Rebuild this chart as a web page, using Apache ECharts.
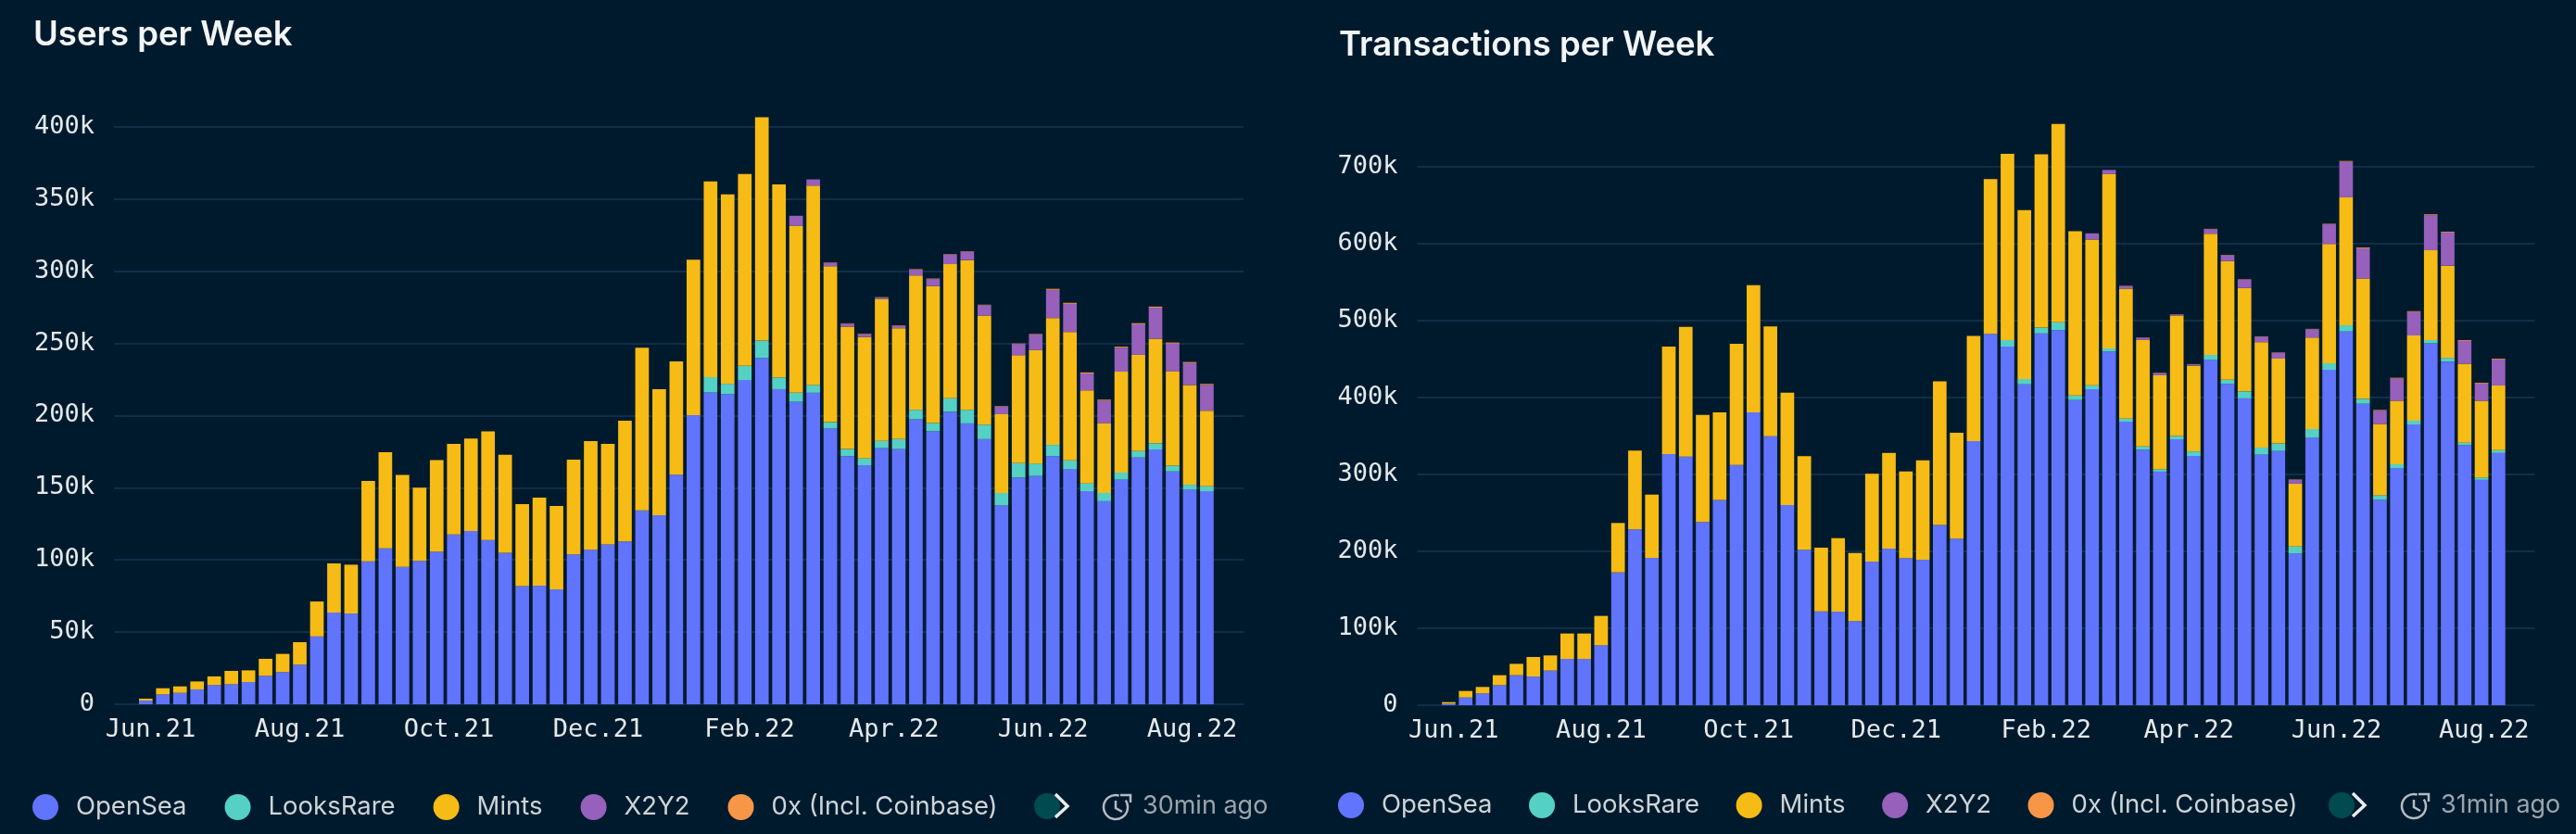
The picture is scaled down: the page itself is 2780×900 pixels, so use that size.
<!DOCTYPE html>
<html><head><meta charset="utf-8">
<style>html,body{margin:0;padding:0;background:#001a2d}#c{width:2780px;height:900px}</style>
<script src="https://cdn.jsdelivr.net/npm/echarts@6/dist/echarts.min.js"></script>
</head><body><div id="c"></div>
<script>
const weeks = ['2021-05-30','2021-06-06','2021-06-13','2021-06-20','2021-06-27','2021-07-04','2021-07-11','2021-07-18','2021-07-25','2021-08-01','2021-08-08','2021-08-15','2021-08-22','2021-08-29','2021-09-05','2021-09-12','2021-09-19','2021-09-26','2021-10-03','2021-10-10','2021-10-17','2021-10-24','2021-10-31','2021-11-07','2021-11-14','2021-11-21','2021-11-28','2021-12-05','2021-12-12','2021-12-19','2021-12-26','2022-01-02','2022-01-09','2022-01-16','2022-01-23','2022-01-30','2022-02-06','2022-02-13','2022-02-20','2022-02-27','2022-03-06','2022-03-13','2022-03-20','2022-03-27','2022-04-03','2022-04-10','2022-04-17','2022-04-24','2022-05-01','2022-05-08','2022-05-15','2022-05-22','2022-05-29','2022-06-05','2022-06-12','2022-06-19','2022-06-26','2022-07-03','2022-07-10','2022-07-17','2022-07-24','2022-07-31','2022-08-07'];
const monthTicks = ['2021-06-01','2021-08-01','2021-10-01','2021-12-01','2022-02-01','2022-04-01','2022-06-01','2022-08-01'];
const monthLabels = ['Jun.21','Aug.21','Oct.21','Dec.21','Feb.22','Apr.22','Jun.22','Aug.22'];
const seriesNames = ['OpenSea','LooksRare','Mints','X2Y2','0x (Incl. Coinbase)'];
const seriesColors = ['#6074fd','#55d0c5','#f6bb14','#9660bb','#f79646'];
const chartTitles = ['Users per Week','Transactions per Week'];
const updatedLabels = ['30min ago','31min ago'];

// values in thousands
const usersOpenSea = [2.6,6.8,7.9,10.3,13.3,13.9,15.4,19.7,22.3,27.4,47,63.5,62.9,99,108,95.2,99.3,105.7,117.7,120,113.8,105,81.9,82.2,79.6,103.8,107,110.8,112.8,134.4,131,159,200.3,216,214.9,224.6,239.8,218.3,209.5,215.8,191.1,171.9,165.6,177.4,176.8,197.4,189.1,202.6,194.6,183.7,137.8,157,158.2,171.9,163,147.6,140.7,155.6,171,176.5,161.3,148.7,147.6];
const usersLooksRare = [0,0,0,0,0,0,0,0,0,0,0,0,0,0,0,0,0,0,0,0,0,0,0,0,0,0,0,0,0,0,0,0,0,10.6,7.1,9.8,12.1,8.1,6.3,5.4,4.3,4.9,4.9,5.1,6.9,6.6,5.7,9.4,9.4,10,8.6,10,8.6,7.8,6,5.4,5.7,4.9,4.4,4.3,4,3.4,3.4];
const usersMints = [1.3,4.3,4.5,5.5,6,9.2,8.1,11.8,12.6,15.6,24.2,34.1,33.8,55.7,66.6,63.6,50.7,63.5,62.7,64,75.3,67.9,56.7,60.9,57.8,65.6,75.3,69.6,83.6,112.6,87.3,78.5,107.7,135.6,131.3,132.9,154.7,133.8,115.7,138.1,108,84.8,83.9,98.3,76.8,93.1,94.9,92.9,103.7,75.6,54.5,74.8,78.5,87.9,88.9,64.5,48.4,69.9,66.7,72.5,65.4,69.1,52.4];
const usersX2Y2 = [0,0,0,0,0,0,0,0,0,0,0,0,0,0,0,0,0,0,0,0,0,0,0,0,0,0,0,0,0,0,0,0,0,0,0,0,0,0,6.9,4.3,2.3,2,2,.9,1.7,4,4.9,6.6,5.8,7.2,5.4,7.8,10.9,19.5,19.5,11.7,15.5,16.6,21.2,21.5,19.2,15.2,17.8];
const users0x = [0,0,0,0,0,0,0,0,0,0,0,0,0,0,0,0,0,0,0,0,0,0,0,0,0,0,0,0,0,0,0,0,0,0,0,0,0,0,0,0,.3,.3,.3,.3,.3,.3,.3,.3,.3,.3,.3,.3,.3,.7,.7,.7,.7,.7,.7,.7,.7,.7,.7];

const txOpenSea = [2,10,15.3,26.1,39,37.3,45,60.2,60.2,77.9,172.7,228.5,191.6,326.5,323.3,238.2,267,312.4,380.7,349.8,260.2,202,122,121.7,109.2,186.7,203.6,191.2,189.2,234.2,216.6,343.5,482.9,466.2,417.2,483.4,487.7,396.7,410.7,459.7,368.7,332.2,303.7,345.7,324.1,449,417.7,398.9,325.8,330.6,197.2,347.8,436,486,391.9,267.1,308,365,470.5,446.8,338.2,292.9,327.9];
const txLooksRare = [0,0,0,0,0,0,0,0,0,0,0,0,0,0,0,0,0,0,0,0,0,0,0,0,0,0,0,0,0,0,0,0,0,8.6,7,7.5,10.2,6,5.4,4.3,3.8,4.3,3.2,4.3,5.9,6.4,5.4,9.1,9.2,9.7,9.1,11.3,8.6,8.1,6.5,5.9,5.4,4.9,4.3,4.8,3.2,3.2,3.8];
const txMints = [2,8.5,8.4,12.9,14.8,25.4,19.7,33,33,38.2,64.2,102.5,82.3,139.8,168.6,139.3,113.7,157.5,165.5,142.6,146.2,121.7,82.8,95.6,88.8,114.1,124.5,112.8,129.3,186.8,137.7,136.6,201.2,242,219.5,225.4,257.7,213.5,189.4,226.5,169,138.3,122.1,156.5,111.4,157.6,154.4,134.5,137.1,110.3,81.8,118.9,155,166.3,156.5,92.6,82.3,110.8,116.7,119.9,102.7,99.6,83.9];
const txX2Y2 = [0,0,0,0,0,0,0,0,0,0,0,0,0,0,0,0,0,0,0,0,0,0,0,0,0,0,0,0,0,0,0,0,0,0,0,0,0,0,8,5.4,3.2,2.7,2.7,1.1,1.6,5.9,7.5,10.8,7,7.5,4.9,10.8,25.8,46.2,39.3,17.2,29,30.6,45.7,43.1,29.6,22.6,33.9];
const tx0x = [0,0,0,0,0,0,0,0,0,0,0,0,0,0,0,0,0,0,0,0,0,0,0,0,0,0,0,0,0,0,0,0,0,0,0,0,0,0,0,0,.5,.5,.5,.5,.5,.5,.5,.5,.5,.5,.5,.5,.5,1,1,1,1,1,1,1,1,1,1];

const panelSeries = [
  [usersOpenSea, usersLooksRare, usersMints, usersX2Y2, users0x],
  [txOpenSea, txLooksRare, txMints, txX2Y2, tx0x]
];
const yMax = [450, 800], yStep = [50, 100];
const TXT = '#e4e9ec', GRID = '#0e2f47', MUTED = '#9aa5ac';
const MONO = '"DejaVu Sans Mono", monospace';
const SANS = 'Inter, sans-serif';
const BAR_W = 14.7;

const gridBox = [
  {left: 123, width: 1219, top: 59, height: 701},
  {left: 1529.5, width: 1206, top: 97, height: 664}
];
const titlePos = [{left: 36, top: 20}, {left: 1445, top: 31}];
const legendPos = [{left: 35, top: 857}, {left: 1444, top: 855}];
const legendGap = [41, 39.5];

const ts = s => Date.parse(s + 'T00:00:00Z');
const xMin = ts('2021-05-17'), xMax = ts('2022-08-22');
const DAY = 86400000;
const tickValues = monthTicks.map(ts);
// ECharts widens a time axis by the bar width; inset min/max so the drawn range stays May 17 - Aug 22
const xInset = gridBox.map(g => (xMax - xMin) * (BAR_W / g.width) / 2);

const series = [];
panelSeries.forEach((vals, p) => {
  vals.forEach((arr, i) => series.push({
    type: 'bar', name: seriesNames[i], xAxisIndex: p, yAxisIndex: p,
    stack: 'p' + p, barWidth: BAR_W, itemStyle: {color: seriesColors[i]},
    silent: true, animation: false,
    data: arr.map((v, k) => [ts(weeks[k]), v])
  }));
});

function footer(dot, chevron, clock, textX, cy, label) {
  return [
    {type: 'circle', shape: {cx: dot, cy, r: 14}, style: {fill: '#004a50'}},
    {type: 'polyline', shape: {points: [[chevron, cy - 13], [chevron + 13, cy], [chevron, cy + 12]]}, style: {fill: 'none', stroke: '#e8ecee', lineWidth: 3.5}},
    {type: 'arc', shape: {cx: clock, cy: cy + 1, r: 13, startAngle: -0.6, endAngle: 5.0}, style: {fill: 'none', stroke: '#b4bcc1', lineWidth: 2.5}},
    {type: 'polyline', shape: {points: [[clock, cy - 6], [clock, cy + 2], [clock + 7, cy + 6]]}, style: {fill: 'none', stroke: '#b4bcc1', lineWidth: 2.5}},
    {type: 'polyline', shape: {points: [[clock + 5, cy - 12], [clock + 16, cy - 12], [clock + 16, cy - 4]]}, style: {fill: 'none', stroke: '#b4bcc1', lineWidth: 2.5}},
    {type: 'text', x: textX, y: cy, style: {text: label, fill: MUTED, font: '27px ' + SANS, textVerticalAlign: 'middle'}}
  ];
}

const option = {
  backgroundColor: '#001a2d', animation: false, useUTC: true,
  title: chartTitles.map((t, i) => ({
    text: t, ...titlePos[i], padding: 0,
    textStyle: {color: '#f2f5f6', fontFamily: SANS, fontWeight: 600, fontSize: 36.5}
  })),
  legend: [0, 1].map(i => ({
    data: seriesNames, ...legendPos[i], orient: 'horizontal', padding: 0,
    icon: 'circle', itemWidth: 28, itemHeight: 28, itemGap: legendGap[i], selectedMode: false,
    textStyle: {color: '#cdd4d8', fontFamily: SANS, fontSize: 27.5, padding: [0, 0, 0, 14]}
  })),
  grid: gridBox.map(g => ({...g, containLabel: false})),
  xAxis: [0, 1].map(i => ({
    type: 'time', gridIndex: i, min: xMin + xInset[i], max: xMax - xInset[i],
    minInterval: 28 * DAY, maxInterval: 31 * DAY,
    axisLine: {show: false}, axisTick: {show: false}, splitLine: {show: false},
    axisLabel: {
      color: TXT, fontFamily: MONO, fontSize: 27, margin: 14,
      hideOverlap: false, interval: 0, showMinLabel: true, showMaxLabel: true,
      formatter: v => monthLabels[tickValues.indexOf(+v)] || ''
    }
  })),
  yAxis: [0, 1].map(i => ({
    type: 'value', gridIndex: i, min: 0, max: yMax[i], interval: yStep[i],
    axisLine: {show: false}, axisTick: {show: false},
    splitLine: {show: true, showMaxLine: false, lineStyle: {color: GRID, width: 2}},
    axisLabel: {
      showMaxLabel: false, color: TXT, fontFamily: MONO, fontSize: 27, margin: 21,
      formatter: v => v === 0 ? '0' : v + 'k'
    }
  })),
  series,
  graphic: {elements: [...footer(1130, 1139, 1204, 1233, 870, updatedLabels[0]), ...footer(2527, 2539, 2605, 2634, 869, updatedLabels[1])]}
};
const chart = echarts.init(document.getElementById('c'), null, {renderer: 'canvas', width: 2780, height: 900});
chart.setOption(option);
</script></body></html>
